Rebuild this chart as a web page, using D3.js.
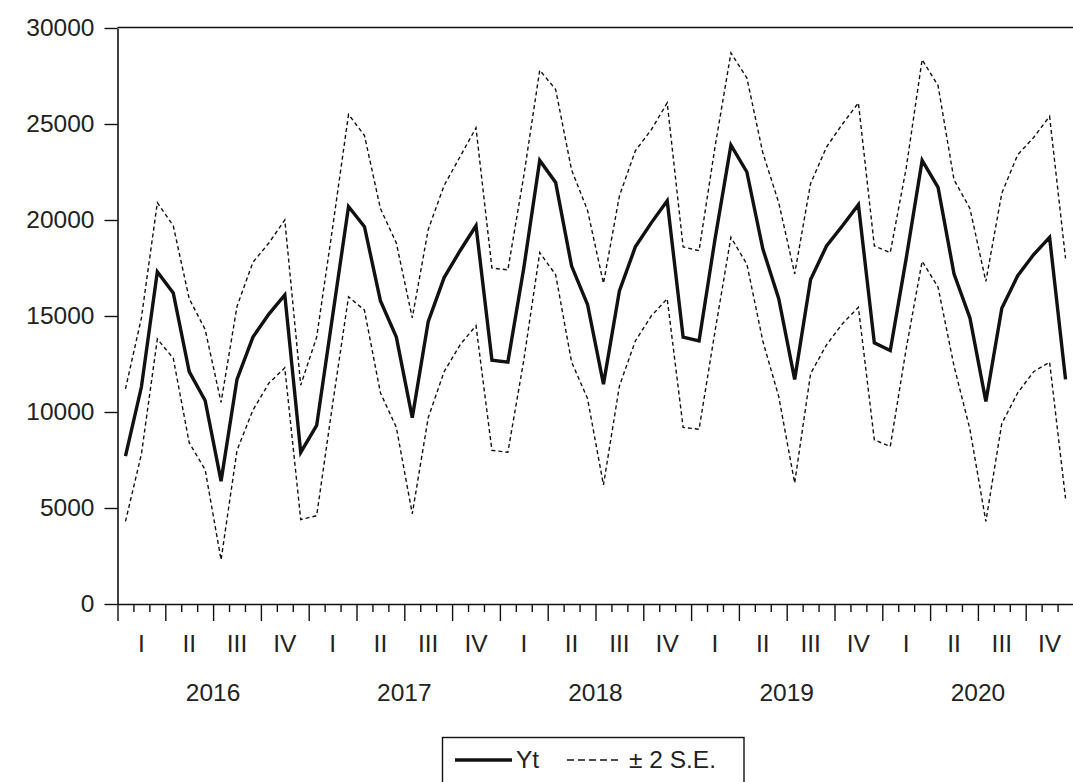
<!DOCTYPE html>
<html>
<head>
<meta charset="utf-8">
<script src="https://cdn.jsdelivr.net/npm/d3@7/dist/d3.min.js"></script>
<style>
  html, body { margin: 0; padding: 0; background: #fff; }
  svg { display: block; }
  text { font-family: "Liberation Sans", Arial, Helvetica, sans-serif; fill: #222; }
</style>
</head>
<body>
<svg id="chart" width="1073" height="782"></svg>
<script>
// Monthly series, Jan 2016 – Dec 2020
const years = [2016, 2017, 2018, 2019, 2020];
const quarterLabels = ["I", "II", "III", "IV"];
const yTicks = [0, 5000, 10000, 15000, 20000, 25000, 30000];

const yt = [
  7700, 11300, 17300, 16200, 12100, 10600, 6400, 11700, 13900, 15100, 16100, 7900,
  9300, 15000, 20700, 19650, 15800, 13900, 9700, 14700, 17000, 18400, 19700, 12700,
  12600, 17500, 23100, 21950, 17600, 15600, 11450, 16300, 18600, 19850, 21000, 13900,
  13700, 19000, 23900, 22500, 18500, 15900, 11700, 16900, 18650, 19700, 20800, 13600,
  13200, 18000, 23100, 21700, 17200, 14900, 10550, 15400, 17100, 18200, 19100, 11700
];

const upper = [
  11200, 14900, 20900, 19700, 15900, 14300, 10500, 15500, 17800, 18800, 20000, 11400,
  13900, 19600, 25500, 24400, 20600, 18800, 14900, 19500, 21800, 23300, 24800, 17500,
  17400, 22300, 27800, 26800, 22600, 20500, 16700, 21250, 23600, 24700, 26100, 18600,
  18400, 23800, 28700, 27400, 23500, 20900, 17200, 21900, 23800, 25000, 26100, 18650,
  18300, 22700, 28350, 27000, 22100, 20600, 16800, 21400, 23400, 24300, 25400, 18000
];

const lower = [
  4300, 7800, 13800, 12800, 8400, 7000, 2300, 8000, 10100, 11500, 12300, 4400,
  4600, 10400, 16000, 15300, 11000, 9200, 4700, 9700, 12100, 13500, 14500, 8000,
  7900, 12700, 18300, 17150, 12600, 10700, 6200, 11350, 13700, 15000, 15900, 9200,
  9100, 14200, 19100, 17700, 13700, 10800, 6300, 12000, 13500, 14600, 15450, 8550,
  8200, 13300, 17850, 16500, 12400, 9100, 4300, 9400, 11000, 12100, 12600, 5500
];

const svg = d3.select("#chart");
const plotLeft = 117.5, plotRight = 1073.5, plotTop = 28, plotBottom = 604;
const nMonths = yt.length;

// month index -> x (each month occupies one unit; points sit mid-month)
const x = d3.scaleLinear().domain([0, nMonths]).range([plotLeft, plotRight]);
const y = d3.scaleLinear().domain([0, 30000]).range([plotBottom, plotTop]);

// frame top edge
svg.append("line")
  .attr("x1", plotLeft).attr("x2", plotRight)
  .attr("y1", plotTop - 0.5).attr("y2", plotTop - 0.5)
  .attr("stroke", "#111").attr("stroke-width", 1.6);

// y axis
const yAxis = svg.append("g")
  .attr("transform", `translate(${plotLeft},0)`)
  .call(d3.axisLeft(y).tickValues(yTicks).tickFormat(d3.format("d"))
        .tickSize(13).tickSizeOuter(0).tickPadding(10));
yAxis.select(".domain").attr("stroke", "#111").attr("stroke-width", 1.6);
yAxis.selectAll(".tick line").attr("stroke", "#111").attr("stroke-width", 1.4);
yAxis.selectAll(".tick text")
  .style("font-size", "24.5px")
  .attr("fill", "#222");

// x axis: monthly minor ticks, quarterly major ticks
const monthTicks = d3.range(0, nMonths + 1);
const quarterTicks = monthTicks.filter(m => m % 3 === 0);

const xMinor = svg.append("g")
  .attr("transform", `translate(0,${plotBottom})`)
  .call(d3.axisBottom(x).tickValues(monthTicks.filter(m => m % 3 !== 0))
        .tickSize(8).tickSizeOuter(0).tickFormat(""));
xMinor.select(".domain").attr("stroke", "#111").attr("stroke-width", 1.6);
xMinor.selectAll(".tick line").attr("stroke", "#111").attr("stroke-width", 1.4);

const xMajor = svg.append("g")
  .attr("transform", `translate(0,${plotBottom})`)
  .call(d3.axisBottom(x).tickValues(quarterTicks)
        .tickSize(17).tickSizeOuter(0).tickFormat(""));
xMajor.select(".domain").remove();
xMajor.selectAll(".tick line").attr("stroke", "#111").attr("stroke-width", 1.4);

// quarter labels (roman numerals) centred in each quarter
const quarters = [];
years.forEach((yr, yi) => quarterLabels.forEach((q, qi) => {
  quarters.push({ label: q, start: yi * 12 + qi * 3 });
}));
svg.append("g").selectAll("text")
  .data(quarters)
  .join("text")
  .attr("x", d => x(d.start + 1.5))
  .attr("y", 652)
  .attr("text-anchor", "middle")
  .style("font-size", "24.5px")
  .text(d => d.label);

// year labels centred under each year
svg.append("g").selectAll("text")
  .data(years)
  .join("text")
  .attr("x", (d, i) => x(i * 12 + 6))
  .attr("y", 701)
  .attr("text-anchor", "middle")
  .style("font-size", "24.5px")
  .text(d => d);

// series lines
const line = d3.line().x((d, i) => x(i + 0.5)).y(d => y(d));

[upper, lower].forEach(band => {
  svg.append("path")
    .datum(band)
    .attr("d", line)
    .attr("fill", "none")
    .attr("stroke", "#111")
    .attr("stroke-width", 1.4)
    .attr("stroke-dasharray", "4,3");
});

svg.append("path")
  .datum(yt)
  .attr("d", line)
  .attr("fill", "none")
  .attr("stroke", "#111")
  .attr("stroke-width", 3.4)
  .attr("stroke-linejoin", "miter");

// legend
const legend = svg.append("g");
legend.append("rect")
  .attr("x", 442.5).attr("y", 737.5)
  .attr("width", 301.5).attr("height", 60)
  .attr("fill", "#fff").attr("stroke", "#111").attr("stroke-width", 1.4);
legend.append("line")
  .attr("x1", 455).attr("x2", 512).attr("y1", 760).attr("y2", 760)
  .attr("stroke", "#111").attr("stroke-width", 3.4);
legend.append("text")
  .attr("x", 516).attr("y", 768)
  .style("font-size", "24.5px").text("Yt");
legend.append("line")
  .attr("x1", 567).attr("x2", 618).attr("y1", 760).attr("y2", 760)
  .attr("stroke", "#111").attr("stroke-width", 1.4)
  .attr("stroke-dasharray", "7,4");
legend.append("text")
  .attr("x", 629).attr("y", 768)
  .style("font-size", "24.5px").text("± 2 S.E.");
</script>
</body>
</html>
